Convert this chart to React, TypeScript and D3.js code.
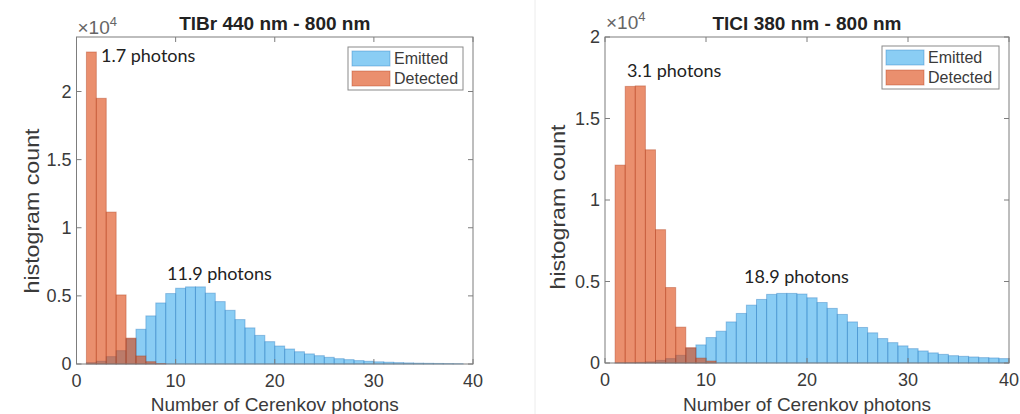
import React from "react";
import * as d3 from "d3";

// ---- data (counts per unit-width bin; first bin starts at photon count 1) ----
const xTicks = [0, 10, 20, 30, 40];
const yTicks = [0, 5000, 10000, 15000, 20000];
const yTickLabels = ["0", "0.5", "1", "1.5", "2"];
const seriesNames = ["Emitted", "Detected"];

const tlbrEmitted = [
  100, 200, 540, 980, 1850, 2550, 3530, 4480, 5170, 5560, 5660, 5660, 5200, 4580,
  3940, 3260, 2650, 2100, 1640, 1320, 1100, 900, 740, 610, 490, 390, 320, 250, 200,
  160, 130, 100, 80, 60, 50, 40, 30, 20,
];
const tlbrDetected = [22900, 19500, 11150, 5070, 1900, 590, 170, 30];

const tlclEmitted = [
  10, 20, 40, 70, 160, 270, 470, 900, 1110, 1560, 1950, 2520, 3040, 3550, 3900, 4210,
  4270, 4270, 4230, 4000, 3710, 3350, 2980, 2520, 2180, 1850, 1500, 1250, 1050, 880,
  740, 620, 530, 450, 410, 370, 330, 310, 270,
];
const tlclDetected = [12140, 16970, 17000, 13080, 8180, 4630, 2200, 940, 300, 120];

const firstBin = 1;

// ---- styling ----
const BLUE = "rgb(60,172,236)";
const ORANGE = "rgb(220,68,14)";
const BLUE_EDGE = "rgb(40,120,190)";
const ORANGE_EDGE = "rgb(175,60,25)";
const AXIS = "#7d7d7d";
const TXT = "#3a3a3a";
const SANS = "'Liberation Sans', Arial, sans-serif";
const ANNO = "Lato, 'Open Sans', sans-serif";

type Panel = {
  title: string;
  emitted: number[];
  detected: number[];
  yMax: number;
  x0: number; x1: number; y0: number; y1: number;
  titleY: number;
  expY: number;
  ylabX: number; ylabY: number;
  annos: { text: string; x: number; y: number }[];
  legend: { x: number; y: number; w: number; h: number };
};

const panels: Panel[] = [
  {
    title: "TlBr 440 nm - 800 nm",
    emitted: tlbrEmitted,
    detected: tlbrDetected,
    yMax: 24000,
    x0: 76.5, x1: 473, y0: 37, y1: 364,
    titleY: 30,
    expY: 34,
    ylabX: 32, ylabY: 211,
    annos: [
      { text: "1.7 photons", x: 101, y: 62 },
      { text: "11.9 photons", x: 167, y: 280 },
    ],
    legend: { x: 348, y: 47, w: 115, h: 43 },
  },
  {
    title: "TlCl 380 nm - 800 nm",
    emitted: tlclEmitted,
    detected: tlclDetected,
    yMax: 20000,
    x0: 605, x1: 1009, y0: 37, y1: 363,
    titleY: 30,
    expY: 29,
    ylabX: 558, ylabY: 207,
    annos: [
      { text: "3.1 photons", x: 627, y: 77 },
      { text: "18.9 photons", x: 744, y: 283 },
    ],
    legend: { x: 882, y: 46, w: 117, h: 43 },
  },
];

function Hist({ p }: { p: Panel }) {
  const x = d3.scaleLinear().domain([0, 40]).range([p.x0, p.x1]);
  const y = d3.scaleLinear().domain([0, p.yMax]).range([p.y1, p.y0]);
  const bars = (vals: number[], fill: string, edge: string, key: string) =>
    vals.map((v, i) => {
      const a = firstBin + i;
      const b = a + 1;
      if (a >= 40) return null;
      return (
        <rect
          key={key + i}
          x={x(a)}
          y={y(v)}
          width={x(Math.min(b, 40)) - x(a)}
          height={y(0) - y(v)}
          fill={fill}
          fillOpacity={0.6}
          stroke={edge}
          strokeOpacity={0.4}
          strokeWidth={1}
        />
      );
    });
  const tl = 5;
  const L = p.legend;
  return (
    <g>
      <rect x={p.x0} y={p.y0} width={p.x1 - p.x0} height={p.y1 - p.y0} fill="#fff" />
      {bars(p.emitted, BLUE, BLUE_EDGE, "e")}
      {bars(p.detected, ORANGE, ORANGE_EDGE, "d")}
      {/* box */}
      <rect x={p.x0} y={p.y0} width={p.x1 - p.x0} height={p.y1 - p.y0} fill="none" stroke={AXIS} strokeWidth={1} />
      {/* x ticks */}
      {xTicks.map((t) => (
        <g key={"xt" + t}>
          <line x1={x(t)} x2={x(t)} y1={p.y1} y2={p.y1 - tl} stroke={AXIS} />
          <line x1={x(t)} x2={x(t)} y1={p.y0} y2={p.y0 + tl} stroke={AXIS} />
          <text x={x(t)} y={p.y1 + 23} textAnchor="middle" fontSize={18} fill={TXT} fontFamily={SANS}>
            {t}
          </text>
        </g>
      ))}
      {/* y ticks */}
      {yTicks.map((t, i) => (
        <g key={"yt" + t}>
          <line x1={p.x0} x2={p.x0 + tl} y1={y(t)} y2={y(t)} stroke={AXIS} />
          <line x1={p.x1} x2={p.x1 - tl} y1={y(t)} y2={y(t)} stroke={AXIS} />
          <text x={p.x0 - 5} y={y(t) + 6} textAnchor="end" fontSize={18} fill={TXT} fontFamily={SANS}>
            {yTickLabels[i]}
          </text>
        </g>
      ))}
      {/* exponent */}
      <text x={p.x0 + 1} y={p.expY} fontSize={19} fill="#666" fontFamily={SANS}>
        ×10
        <tspan dy={-8} fontSize={13}>4</tspan>
      </text>
      {/* title */}
      <text x={(p.x0 + p.x1) / 2} y={p.titleY} textAnchor="middle" fontSize={19} fontWeight="bold" fill="#222" fontFamily={SANS}>
        {p.title}
      </text>
      {/* axis labels */}
      <text x={(p.x0 + p.x1) / 2} y={411} textAnchor="middle" fontSize={19} fill={TXT} fontFamily={SANS}>
        Number of Cerenkov photons
      </text>
      <text
        transform={`translate(${p.ylabX + 7},${p.ylabY}) rotate(-90)`}
        textAnchor="middle"
        fontSize={20}
        fill={TXT}
        fontFamily={SANS}
        textLength={165}
        lengthAdjust="spacingAndGlyphs"
      >
        histogram count
      </text>
      {/* annotations */}
      {p.annos.map((a) => (
        <text key={a.text} x={a.x} y={a.y} fontSize={18} fill="#222" fontFamily={ANNO}>
          {a.text}
        </text>
      ))}
      {/* legend */}
      <g>
        <rect x={L.x} y={L.y} width={L.w} height={L.h} fill="#fff" stroke="#8a8a8a" strokeWidth={1} />
        {seriesNames.map((n, i) => (
          <g key={n}>
            <rect
              x={L.x + 4}
              y={L.y + 4 + i * 20}
              width={38}
              height={15}
              fill={i === 0 ? BLUE : ORANGE}
              fillOpacity={0.6}
              stroke={i === 0 ? BLUE_EDGE : ORANGE_EDGE}
              strokeOpacity={0.4}
            />
            <text x={L.x + 46} y={L.y + 17 + i * 20} fontSize={16} fill={TXT} fontFamily={SANS}>
              {n}
            </text>
          </g>
        ))}
      </g>
    </g>
  );
}

export default function App() {
  return (
    <svg
      width={1020}
      height={414}
      style={{ position: "absolute", left: 0, top: 0, background: "#fff" }}
    >
      <rect x={0} y={0} width={1020} height={414} fill="#fff" />
      <line x1={535} x2={535} y1={0} y2={414} stroke="#ececec" />
      {panels.map((p) => (
        <Hist key={p.title} p={p} />
      ))}
    </svg>
  );
}
